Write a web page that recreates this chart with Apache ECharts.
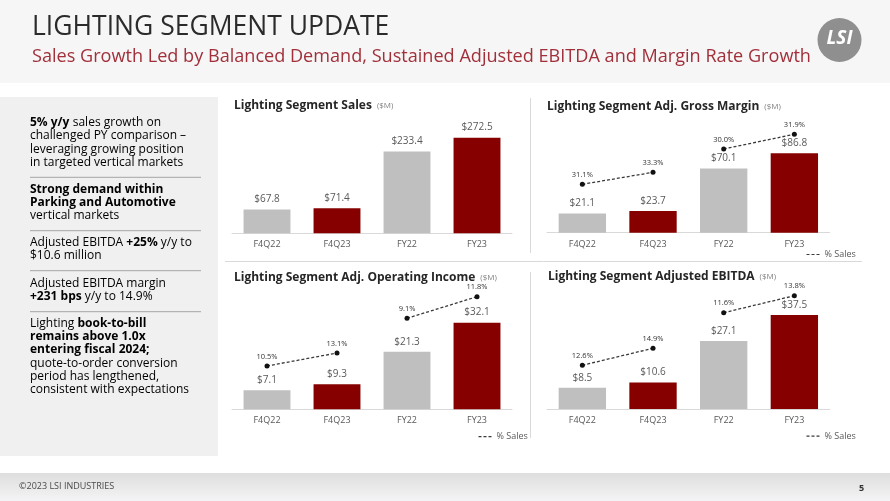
<!DOCTYPE html>
<html>
<head>
<meta charset="utf-8">
<script src="https://cdn.jsdelivr.net/npm/echarts@6/dist/echarts.min.js"></script>
<style>
html,body{margin:0;padding:0;background:#fff;}
#main{width:890px;height:501px;}
</style>
</head>
<body>
<div id="main"></div>
<script>
// ---- data ----
const categories = ['F4Q22', 'F4Q23', 'FY22', 'FY23'];
const salesValues = [67.8, 71.4, 233.4, 272.5];
const grossMarginValues = [21.1, 23.7, 70.1, 86.8];
const grossMarginPct = [31.1, 33.3, 30.0, 31.9];
const opIncomeValues = [7.1, 9.3, 21.3, 32.1];
const opIncomePct = [10.5, 13.1, 9.1, 11.8];
const ebitdaValues = [8.5, 10.6, 27.1, 37.5];
const ebitdaPct = [12.6, 14.9, 11.6, 13.8];
const chartTitles = ['Lighting Segment Sales', 'Lighting Segment Adj. Gross Margin', 'Lighting Segment Adj. Operating Income', 'Lighting Segment Adjusted EBITDA'];
const unitLabel = '($M)';
const legendLabel = '% Sales';

// ---- style ----
const FONT = "'Open Sans', 'DejaVu Sans', sans-serif";
const barColors = ['#bfbfbf', '#870000', '#bfbfbf', '#870000'];
const textGray = '#595959';

const chart = echarts.init(document.getElementById('main'), null, {renderer: 'canvas'});

const grids = [], xAxes = [], yAxes = [], series = [], titles = [];

function addChart(cfg) {
  const gi = grids.length;
  grids.push({left: cfg.left, right: cfg.right, top: cfg.top, bottom: cfg.bottom, containLabel: false});
  xAxes.push({
    type: 'category', gridIndex: gi, data: categories,
    axisLine: {lineStyle: {color: '#d9d9d9', width: 1}},
    axisTick: {show: false},
    axisLabel: {color: textGray, fontSize: 9, fontFamily: FONT, margin: 7}
  });
  const barY = yAxes.length;
  yAxes.push({type: 'value', gridIndex: gi, min: 0, max: cfg.barMax, show: false});
  series.push({
    type: 'bar', xAxisIndex: gi, yAxisIndex: barY, barWidth: '67%',
    data: cfg.values.map((v, i) => ({value: v, itemStyle: {color: barColors[i]}})),
    label: {show: true, position: 'top', distance: 5, color: textGray, fontSize: 10, fontFamily: FONT,
      formatter: p => '$' + p.value.toFixed(1)},
    silent: true
  });
  if (cfg.pct) {
    const ranges = [cfg.qRange, cfg.aRange];
    ranges.forEach((r, k) => {
      const yi = yAxes.length;
      yAxes.push({type: 'value', gridIndex: gi, min: r[0], max: r[1], show: false});
      series.push({
        type: 'line', name: legendLabel, xAxisIndex: gi, yAxisIndex: yi, clip: false,
        data: cfg.pct.map((v, i) => (Math.floor(i / 2) === k ? v : null)),
        connectNulls: false,
        lineStyle: {color: '#3a3a3a', width: 1.3, type: [3, 2]},
        symbol: 'circle', symbolSize: 5,
        itemStyle: {color: '#111'},
        label: {show: true, position: 'top', distance: 3, color: '#333', fontSize: 7.5, fontFamily: FONT,
          formatter: p => p.value.toFixed(1) + '%'},
        silent: true, z: 5
      });
    });
  }
  titles.push({
    text: '{t|' + cfg.title + '} {u|' + unitLabel + '}',
    left: cfg.titleX, top: cfg.titleY - 8, padding: 0,
    textStyle: {rich: {
      t: {fontFamily: FONT, fontSize: 12, fontWeight: 'bold', color: '#262626', lineHeight: 16},
      u: {fontFamily: FONT, fontSize: 8, fontWeight: 'normal', color: '#7f7f7f', lineHeight: 16}
    }}
  });
}

addChart({title: chartTitles[0], titleX: 234, titleY: 105, values: salesValues, barMax: 300,
  left: 232, right: 378, top: 128, bottom: 267.7});
addChart({title: chartTitles[1], titleX: 547, titleY: 106, values: grossMarginValues, pct: grossMarginPct, barMax: 120,
  qRange: [22.23, 42.36], aRange: [19.18, 33.37],
  left: 547, right: 60.3, top: 122.9, bottom: 268.3});
addChart({title: chartTitles[2], titleX: 234, titleY: 276.5, values: opIncomeValues, pct: opIncomePct, barMax: 40,
  qRange: [1.84, 23.44], aRange: [-2.275, 11.225],
  left: 232, right: 378, top: 301.3, bottom: 91.7});
addChart({title: chartTitles[3], titleX: 548, titleY: 276, values: ebitdaValues, pct: ebitdaPct, barMax: 44,
  qRange: [6.687, 21.62], aRange: [-0.863, 13.425],
  left: 547, right: 60.3, top: 298.6, bottom: 92});

// ---- slide decoration ----
const graphics = [];
graphics.push({type: 'rect', shape: {x: 0, y: 0, width: 890, height: 83}, style: {fill: '#f6f6f6'}, z: -10});
graphics.push({type: 'rect', shape: {x: 0, y: 97, width: 218, height: 359}, style: {fill: '#f0f0f0'}, z: -10});
graphics.push({type: 'rect', shape: {x: 0, y: 473, width: 890, height: 28},
  style: {fill: new echarts.graphic.LinearGradient(0, 0, 0, 1, [{offset: 0, color: '#dedede'}, {offset: 1, color: '#f4f4f6'}])}, z: -10});

graphics.push({type: 'text', x: 32, y: 27, style: {text: 'LIGHTING SEGMENT UPDATE', font: '500 26.5px ' + FONT, fill: '#2b2b2b', textVerticalAlign: 'middle'}});
graphics.push({type: 'text', x: 32, y: 57, style: {text: 'Sales Growth Led by Balanced Demand, Sustained Adjusted EBITDA and Margin Rate Growth', font: '18.1px ' + FONT, fill: '#a1303b', textVerticalAlign: 'middle'}});

// logo
graphics.push({type: 'circle', shape: {cx: 839.5, cy: 40, r: 22}, style: {fill: '#8f8f8f'}});
graphics.push({type: 'text', x: 839.5, y: 39, style: {text: 'LSI', font: 'italic bold 19px ' + FONT, fill: '#ffffff', textAlign: 'center', textVerticalAlign: 'middle'}});

// separators
const sep = '#d9d9d9';
graphics.push({type: 'line', shape: {x1: 530.5, y1: 98, x2: 530.5, y2: 253}, style: {stroke: sep, lineWidth: 1}});
graphics.push({type: 'line', shape: {x1: 225, y1: 261.5, x2: 862, y2: 261.5}, style: {stroke: sep, lineWidth: 1}});
graphics.push({type: 'line', shape: {x1: 530.5, y1: 272, x2: 530.5, y2: 438}, style: {stroke: sep, lineWidth: 1}});

// legends
function legendAt(x, y) {
  graphics.push({type: 'line', shape: {x1: x, y1: y, x2: x + 15, y2: y}, style: {stroke: '#3a3a3a', lineWidth: 1.2, lineDash: [3, 2]}});
  graphics.push({type: 'text', x: x + 18, y: y, style: {text: legendLabel, font: '9px ' + FONT, fill: textGray, textVerticalAlign: 'middle'}});
}
legendAt(806.5, 254.5);
legendAt(478.5, 436.7);
legendAt(806.5, 436.2);

// left panel text
const leftRich = {
  n: {fontFamily: FONT, fontSize: 12, color: '#3a3a3a'},
  b: {fontFamily: FONT, fontSize: 12, color: '#1a1a1a', fontWeight: 'bold'}
};
const leftLines = [
  [122.5, '{b|5% y/y} {n|sales growth on}'],
  [136, '{n|challenged PY comparison –}'],
  [149.3, '{n|leveraging growing position}'],
  [162.7, '{n|in targeted vertical markets}'],
  [189.3, '{b|Strong demand within}'],
  [202.7, '{b|Parking and Automotive}'],
  [216, '{n|vertical markets}'],
  [242.7, '{n|Adjusted EBITDA }{b|+25%}{n| y/y to}'],
  [256, '{n|$10.6 million}'],
  [283.3, '{n|Adjusted EBITDA margin}'],
  [296.7, '{b|+231 bps}{n| y/y to 14.9%}'],
  [323.3, '{n|Lighting }{b|book-to-bill}'],
  [336.7, '{b|remains above 1.0x}'],
  [350, '{b|entering fiscal 2024;}'],
  [363.3, '{n|quote-to-order conversion}'],
  [376.7, '{n|period has lengthened,}'],
  [390, '{n|consistent with expectations}']
];
leftLines.forEach(([y, t]) => {
  graphics.push({type: 'text', x: 30, y: y, style: {text: t, rich: leftRich, textVerticalAlign: 'middle'}});
});
[177.3, 230.7, 270.7, 311.7].forEach(y => {
  graphics.push({type: 'line', shape: {x1: 30, y1: y, x2: 201, y2: y}, style: {stroke: '#a6a6a6', lineWidth: 1}});
});

// footer
graphics.push({type: 'text', x: 19, y: 486.5, style: {text: '©2023 LSI INDUSTRIES', font: '9px ' + FONT, fill: '#4a4a4a', textVerticalAlign: 'middle'}});
graphics.push({type: 'text', x: 861.5, y: 488, style: {text: '5', font: 'bold 9px ' + FONT, fill: '#333', textAlign: 'center', textVerticalAlign: 'middle'}});

chart.setOption({
  animation: false,
  backgroundColor: '#ffffff',
  title: titles,
  grid: grids,
  xAxis: xAxes,
  yAxis: yAxes,
  series: series,
  graphic: {elements: graphics}
});
</script>
</body>
</html>
